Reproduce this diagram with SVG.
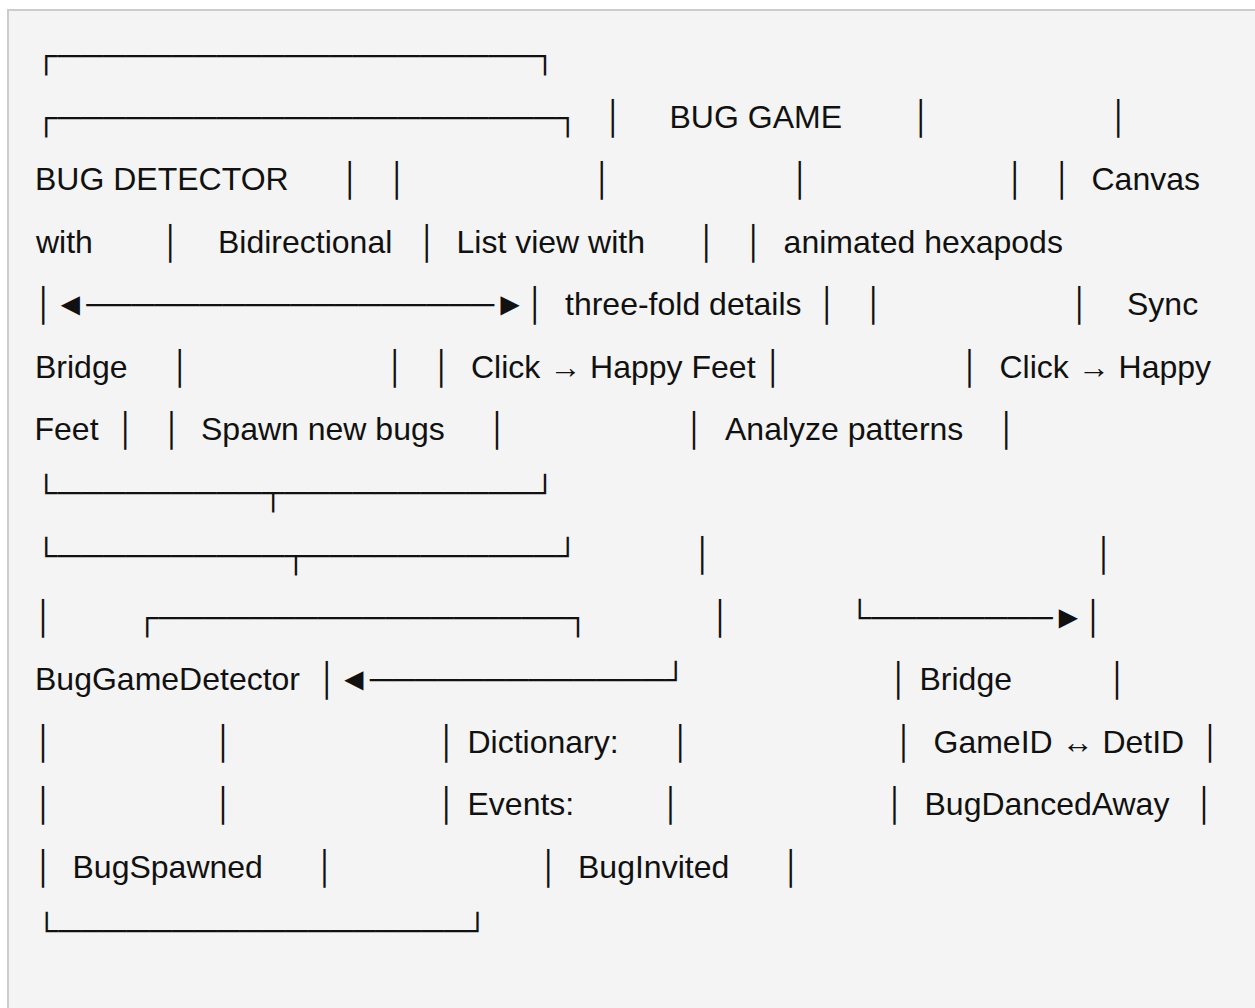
<svg xmlns="http://www.w3.org/2000/svg" width="1255" height="1008" viewBox="0 0 1255 1008">
<style>
text{font-family:"Liberation Sans","DejaVu Sans",sans-serif;font-size:32px;fill:#111;white-space:pre}
.b{text-anchor:middle}
</style>
<rect x="0" y="0" width="1255" height="1008" fill="#ffffff"/>
<rect x="8" y="10" width="1300" height="1100" fill="#f4f4f4" stroke="#cccccc" stroke-width="2"/>
<g id="rowA"><text x="35" y="66">┌─────────────────────┐</text></g>
<g id="rowB"><text x="35" y="128">┌──────────────────────┐</text>
<text class="b" x="614" y="128">│</text><text x="669.5" y="128">BUG GAME</text><text class="b" x="922" y="128">│</text><text class="b" x="1119.5" y="128">│</text></g>
<g id="rowC"><text x="35" y="190">BUG DETECTOR</text>
<text class="b" x="351" y="190">│</text><text class="b" x="398" y="190">│</text><text class="b" x="603" y="190">│</text><text class="b" x="801" y="190">│</text><text class="b" x="1016" y="190">│</text><text class="b" x="1063" y="190">│</text><text x="1091.5" y="190">Canvas</text></g>
<g id="rowD"><text x="36" y="252.5">with</text><text class="b" x="171.6" y="252.5">│</text><text x="218" y="252.5">Bidirectional</text><text class="b" x="428" y="252.5">│</text><text x="456.5" y="252.5">List view with</text><text class="b" x="707.5" y="252.5">│</text><text class="b" x="754.5" y="252.5">│</text><text x="783.6" y="252.5">animated hexapods</text></g>
<g id="rowE"><text x="34.5" y="315">│◄──────────────────►│</text><text x="565" y="315">three-fold details</text><text class="b" x="828" y="315">│</text><text class="b" x="874.4" y="315">│</text><text class="b" x="1080.5" y="315">│</text><text x="1127" y="315">Sync</text></g>
<g id="rowF"><text x="35" y="377.5">Bridge</text><text class="b" x="181" y="377.5">│</text><text class="b" x="396" y="377.5">│</text><text class="b" x="442.5" y="377.5">│</text><text x="471" y="377.5">Click → Happy Feet</text><text class="b" x="774" y="377.5">│</text><text class="b" x="970.7" y="377.5">│</text><text x="999.5" y="377.5">Click → Happy</text></g>
<g id="rowG"><text x="34.5" y="440">Feet</text><text class="b" x="126.5" y="440">│</text><text class="b" x="172.8" y="440">│</text><text x="201" y="440">Spawn new bugs</text><text class="b" x="498.2" y="440">│</text><text class="b" x="695.3" y="440">│</text><text x="725" y="440">Analyze patterns</text><text class="b" x="1007.6" y="440">│</text></g>
<g id="rowH"><text x="35" y="503">└─────────┬───────────┘</text></g>
<g id="rowI"><text x="35" y="565.5">└──────────┬───────────┘</text><text class="b" x="703.4" y="565">│</text><text class="b" x="1104.8" y="565">│</text></g>
<g id="rowJ"><text class="b" x="44.3" y="627.5">│</text><text x="136" y="628">┌──────────────────┐</text><text class="b" x="721.3" y="627.5">│</text><text x="848.5" y="628">└────────►│</text></g>
<g id="rowK"><text x="35" y="690">BugGameDetector</text><text x="318" y="690">│◄─────────────┘</text><text class="b" x="899.5" y="690">│</text><text x="919.5" y="690">Bridge</text><text class="b" x="1118.2" y="690">│</text></g>
<g id="rowL"><text class="b" x="44.3" y="752.5">│</text><text class="b" x="224.2" y="752.5">│</text><text class="b" x="447.6" y="752.5">│</text><text x="467.5" y="752.5">Dictionary:</text><text class="b" x="681.6" y="752.5">│</text><text class="b" x="904.7" y="752.5">│</text><text x="933.5" y="752.5">GameID ↔ DetID</text><text class="b" x="1211.3" y="752.5">│</text></g>
<g id="rowM"><text class="b" x="44.3" y="815">│</text><text class="b" x="224.2" y="815">│</text><text class="b" x="447.6" y="815">│</text><text x="467.5" y="815">Events:</text><text class="b" x="671.8" y="815">│</text><text class="b" x="895.8" y="815">│</text><text x="924.5" y="815">BugDancedAway</text><text class="b" x="1205.3" y="815">│</text></g>
<g id="rowN"><text class="b" x="44.3" y="877.5">│</text><text x="72.5" y="877.5">BugSpawned</text><text class="b" x="325.8" y="877.5">│</text><text class="b" x="549.6" y="877.5">│</text><text x="578" y="877.5">BugInvited</text><text class="b" x="792.1" y="877.5">│</text></g>
<g id="rowO"><text x="35.6" y="941">└──────────────────┘</text></g>
</svg>
